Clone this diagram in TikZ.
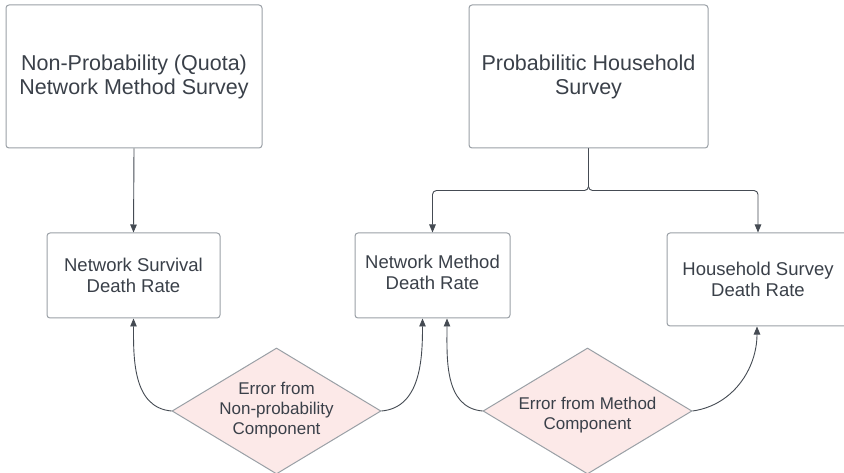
\documentclass[tikz,border=0pt]{standalone}
\usepackage{fontspec}
\setmainfont{Liberation Sans}
\usetikzlibrary{shapes.geometric,arrows.meta}
\definecolor{inktext}{HTML}{3A4049}
\definecolor{boxline}{HTML}{9AA0A6}
\definecolor{linkline}{HTML}{454B53}
\definecolor{errfill}{HTML}{FCE9E8}
\tikzset{
  bigbox/.style={draw=boxline, line width=1pt, rounded corners=3pt, fill=white,
    text=inktext, align=center, font=\fontsize{21.5}{24}\selectfont, inner sep=0pt},
  ratebox/.style={draw=boxline, line width=1pt, rounded corners=3pt, fill=white,
    text=inktext, align=center, font=\fontsize{18.5}{21.5}\selectfont, inner sep=0pt},
  errnode/.style={diamond, draw=boxline, line width=1pt, fill=errfill,
    inner sep=0pt, minimum width=209pt, minimum height=126pt},
  errtext/.style={text=inktext, align=center, font=\fontsize{17}{20}\selectfont, inner sep=0pt},
  link/.style={draw=linkline, line width=0.9pt, -{Triangle[length=8pt,width=6.5pt]}},
  labeltext/.style={text=inktext, align=center, font=\fontsize{18.5}{21.5}\selectfont, inner sep=0pt}
}
\begin{document}
\begin{tikzpicture}[x=1pt,y=-1pt]
\useasboundingbox (0,0) rectangle (844,473);
\clip (0,0) rectangle (844,473);
\fill[white] (0,0) rectangle (844,473);

% survey boxes
\node[bigbox, minimum width=256pt, minimum height=143pt] (quota) at (134,76.5)
  {Non-Probability (Quota)\\Network Method Survey};
\node[bigbox, minimum width=239pt, minimum height=143pt] (house) at (588.5,76.5)
  {Probabilitic Household\\Survey};

% death-rate boxes
\node[ratebox, minimum width=173pt, minimum height=85pt] (netsurv) at (133.5,275.5)
  {Network Survival\\Death Rate};
\node[ratebox, minimum width=155pt, minimum height=85pt] (netmeth) at (432.5,275.5) {};
\node[labeltext] (netmethtext) at (432.5,272.5) {Network Method\\Death Rate};
\node[ratebox, minimum width=182pt, minimum height=93pt] (hhrate) at (758,279.5)
  {Household Survey\\Death Rate};

% error components (diamond outline with its wording laid over it)
\node[errnode] (errnp) at (276.5,411) {};
\node[errtext] (errnptext) at (276.5,410) {Error from\\Non-probability\\Component};
\node[errnode] (errm) at (587.5,411) {};
\node[errtext] (errmtext) at (587.5,415) {Error from Method\\Component};

% connectors
\draw[link] (quota.south) -- (netsurv.north);
\draw[link, rounded corners=4pt] (house.south) -- ++(0,42) -| (netmeth.north);
\draw[link, rounded corners=4pt] (house.south) -- ++(0,42) -| (hhrate.north);

\draw[link] (errnp.west) to[out=175,in=-90] (netsurv.south);
\draw[link] (errnp.east) to[out=5,in=-90] ([xshift=-10pt]netmeth.south);
\draw[link] (errm.west) to[out=175,in=-90] ([xshift=14.5pt]netmeth.south);
\draw[link] (errm.east) to[out=8,in=-90] ([xshift=-1pt]hhrate.south);
\end{tikzpicture}
\end{document}
